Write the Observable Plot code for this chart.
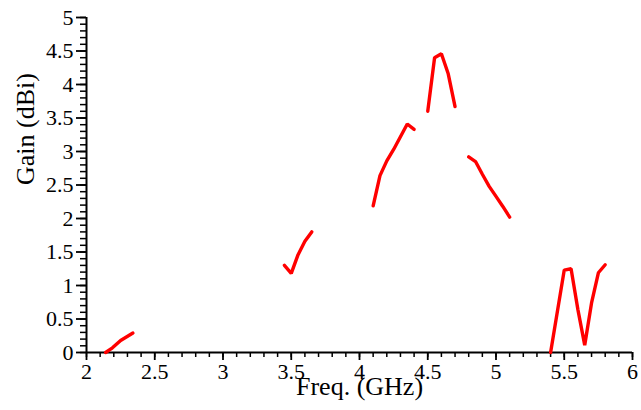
<!DOCTYPE html>
<html><head><meta charset="utf-8">
<script src="https://cdn.jsdelivr.net/npm/d3@7"></script>
<script src="https://cdn.jsdelivr.net/npm/@observablehq/plot@0.6"></script>
<style>
body{margin:0;background:#fff}
</style></head><body><div id="chart"></div>
<script>
// Measured gain curve, drawn as separate segments
const seg1Freq = [2.14, 2.19, 2.25, 2.34];
const seg1Gain = [0.0, 0.07, 0.18, 0.29];
const seg2Freq = [3.45, 3.5, 3.55, 3.6, 3.65];
const seg2Gain = [1.3, 1.18, 1.46, 1.66, 1.8];
const seg3Freq = [4.1, 4.15, 4.2, 4.25, 4.3, 4.35, 4.4];
const seg3Gain = [2.19, 2.64, 2.86, 3.03, 3.22, 3.41, 3.33];
const seg4Freq = [4.5, 4.55, 4.6, 4.65, 4.7];
const seg4Gain = [3.6, 4.4, 4.46, 4.16, 3.67];
const seg5Freq = [4.8, 4.85, 4.9, 4.95, 5.0, 5.05, 5.1];
const seg5Gain = [2.92, 2.85, 2.66, 2.48, 2.33, 2.18, 2.02];
const seg6Freq = [5.4, 5.5, 5.55, 5.6, 5.65, 5.7, 5.75, 5.8];
const seg6Gain = [0.0, 1.23, 1.25, 0.64, 0.11, 0.74, 1.19, 1.31];

const xTicks = [2, 2.5, 3, 3.5, 4, 4.5, 5, 5.5, 6];
const yTicks = [0, 0.5, 1, 1.5, 2, 2.5, 3, 3.5, 4, 4.5, 5];
const xMinor = d3.range(0, 41).map(i => 2 + i * 0.1);
const yMinor = d3.range(0, 51).map(i => i * 0.1);
const xTitle = "Freq. (GHz)";
const yTitle = "Gain (dBi)";

const segs = [[seg1Freq, seg1Gain], [seg2Freq, seg2Gain], [seg3Freq, seg3Gain],
              [seg4Freq, seg4Gain], [seg5Freq, seg5Gain], [seg6Freq, seg6Gain]];
const rows = segs.flatMap(([fs, gs], k) => fs.map((f, i) => ({seg: k, f, g: gs[i]})));
const fmt = d3.format("~g");
const serif = "'Liberation Serif', 'DejaVu Serif', serif";

const chart = Plot.plot({
  width: 641,
  height: 410,
  marginLeft: 86,
  marginRight: 9,
  marginTop: 17,
  marginBottom: 58,
  style: {fontSize: "20px", fontFamily: serif, color: "#000", background: "#fff"},
  x: {domain: [2, 6]},
  y: {domain: [0, 5]},
  marks: [
    Plot.axisX({ticks: xMinor, tickSize: 5, text: null, strokeWidth: 1.5, label: null}),
    Plot.axisY({ticks: yMinor, tickSize: 6, text: null, strokeWidth: 1.5, label: null}),
    Plot.axisX({ticks: xTicks, tickSize: 8, tickPadding: 3, tickFormat: fmt, fontSize: 22, strokeWidth: 1.8, label: null, fill: "#000"}),
    Plot.axisY({ticks: yTicks, tickSize: 10, tickPadding: 3, tickFormat: fmt, fontSize: 22, strokeWidth: 1.8, label: null, fill: "#000"}),
    Plot.ruleX([2], {stroke: "#000", strokeWidth: 2}),
    Plot.ruleY([0], {stroke: "#000", strokeWidth: 2}),
    Plot.line(rows, {x: "f", y: "g", z: "seg", stroke: "#ff0000", strokeWidth: 3.4, strokeLinejoin: "miter"}),
    Plot.text([yTitle], {frameAnchor: "left", dx: -61, rotate: -90, fill: "#000", fontSize: 26}),
    Plot.text([xTitle], {frameAnchor: "bottom", dy: 42, fill: "#000", fontSize: 26})
  ]
});
document.getElementById("chart").appendChild(chart);
</script>
</body></html>
